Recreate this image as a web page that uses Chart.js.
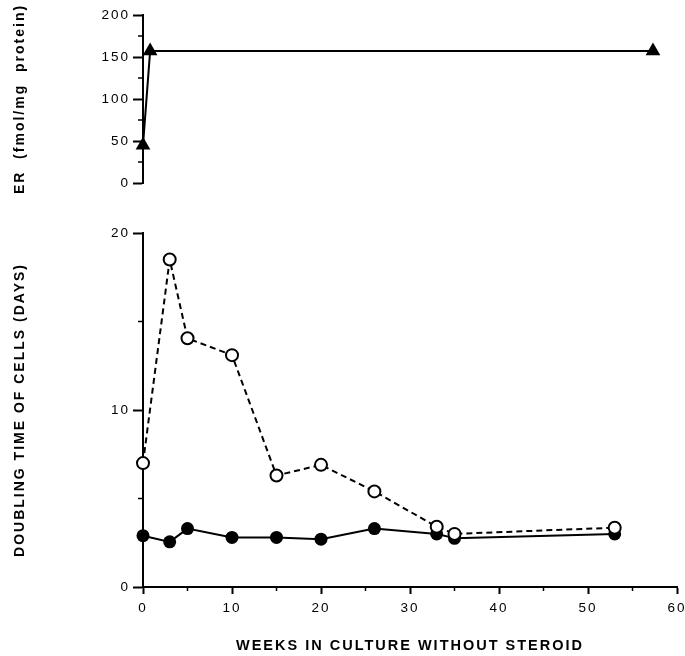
<!DOCTYPE html>
<html>
<head>
<meta charset="utf-8">
<script src="https://cdn.jsdelivr.net/npm/chart.js@4.4.1/dist/chart.umd.min.js"></script>
<style>
    body { margin: 0; background: #fff; overflow: hidden; }
    #erBox { position: absolute; left: 0; top: 0; width: 700px; height: 200px; }
    #dtBox { position: absolute; left: 0; top: 200px; width: 700px; height: 456px; }
</style>
</head>
<body>
<div id="erBox"><canvas id="erChart"></canvas></div>
<div id="dtBox"><canvas id="dtChart"></canvas></div>
<script>
// ER level (top panel)
let erWeeks = [0, 0.8, 57.3];
let erValues = [45, 157, 157];
let erTicks = [0, 50, 100, 150, 200];
let erMinor = [25, 75, 125, 175];

// doubling time (bottom panel)
let weeks = [0, 3, 5, 10, 15, 20, 26, 33, 35, 53];
let openCircles = [7.0, 18.5, 14.05, 13.1, 6.3, 6.9, 5.4, 3.4, 3.0, 3.35];
let filledCircles = [2.9, 2.55, 3.3, 2.8, 2.8, 2.7, 3.3, 3.0, 2.75, 3.0];
let dtTicks = [0, 10, 20];
let dtMinor = [5, 15];

let weekTicks = [0, 10, 20, 30, 40, 50, 60];
let weekMinor = [5, 15, 25, 35, 45, 55];

Chart.defaults.font.family = "'Liberation Sans', Arial, sans-serif";
Chart.defaults.color = "#000";

function toPoints(xs, ys) {
    let pts = [];
    for (let i = 0; i < xs.length; i++) {
        pts.push({ x: xs[i], y: ys[i] });
    }
    return pts;
}

function setTicks(list) {
    return function(scale) {
        scale.ticks = list.map(function(v) { return { value: v }; });
    };
}

let spacing = {
    id: "spacing",
    beforeDraw: function(chart) {
        chart.ctx.letterSpacing = "2px";
    }
};

// short minor tick marks, placed through the scales
let minorTicks = {
    id: "minorTicks",
    afterDraw: function(chart, args, opts) {
        let ctx = chart.ctx;
        ctx.save();
        ctx.strokeStyle = "#000";
        ctx.lineWidth = 1.5;
        let xs = chart.scales.x;
        let ys = chart.scales.y;
        (opts.x || []).forEach(function(v) {
            let px = xs.getPixelForValue(v);
            ctx.beginPath();
            ctx.moveTo(px, chart.chartArea.bottom);
            ctx.lineTo(px, chart.chartArea.bottom + 4);
            ctx.stroke();
        });
        (opts.y || []).forEach(function(v) {
            let py = ys.getPixelForValue(v);
            ctx.beginPath();
            ctx.moveTo(chart.chartArea.left, py);
            ctx.lineTo(chart.chartArea.left - 5, py);
            ctx.stroke();
        });
        ctx.restore();
    }
};

let axisGrid = {
    drawOnChartArea: false,
    drawTicks: true,
    tickLength: 10,
    tickWidth: 2,
    tickColor: "#000"
};

new Chart(document.getElementById("erChart"), {
    type: "scatter",
    data: {
        datasets: [{
            data: toPoints(erWeeks, erValues),
            showLine: true,
            borderColor: "#000",
            borderWidth: 2,
            backgroundColor: "#000",
            pointStyle: "triangle",
            pointRadius: 8.5,
            pointBorderWidth: 0,
            clip: false
        }]
    },
    options: {
        responsive: true,
        maintainAspectRatio: false,
        animation: false,
        layout: { padding: { left: 0, right: 23, top: 15, bottom: 17 } },
        plugins: {
            legend: { display: false },
            tooltip: { enabled: false },
            minorTicks: { y: erMinor }
        },
        scales: {
            x: { type: "linear", min: 0, max: 60, display: false },
            y: {
                min: 0,
                max: 200,
                afterBuildTicks: setTicks(erTicks),
                afterFit: function(scale) { scale.width = 143; },
                border: { display: true, width: 2, color: "#000" },
                grid: axisGrid,
                ticks: { padding: 3, font: { size: 13.5 } },
                title: {
                    display: true,
                    text: "ER  (fmol/mg  protein)",
                    font: { size: 14, weight: "bold" },
                    padding: { top: 12, bottom: 0 }
                }
            }
        }
    },
    plugins: [spacing, minorTicks]
});

new Chart(document.getElementById("dtChart"), {
    type: "scatter",
    data: {
        datasets: [{
            data: toPoints(weeks, openCircles),
            showLine: true,
            borderColor: "#000",
            borderWidth: 2,
            borderDash: [6, 4],
            backgroundColor: "#fff",
            pointBorderColor: "#000",
            pointBorderWidth: 2,
            pointRadius: 6,
            clip: false
        }, {
            data: toPoints(weeks, filledCircles),
            showLine: true,
            borderColor: "#000",
            borderWidth: 2,
            backgroundColor: "#000",
            pointRadius: 6.5,
            pointBorderWidth: 0,
            clip: false
        }]
    },
    options: {
        responsive: true,
        maintainAspectRatio: false,
        animation: false,
        layout: { padding: { left: 0, right: 23, top: 33, bottom: 0 } },
        plugins: {
            legend: { display: false },
            tooltip: { enabled: false },
            minorTicks: { x: weekMinor, y: dtMinor }
        },
        scales: {
            x: {
                type: "linear",
                min: 0,
                max: 60,
                afterBuildTicks: setTicks(weekTicks),
                afterFit: function(scale) { scale.height = 69; },
                border: { display: true, width: 2, color: "#000" },
                grid: {
                    drawOnChartArea: false,
                    drawTicks: true,
                    tickLength: 7,
                    tickWidth: 2,
                    tickColor: "#000"
                },
                ticks: { padding: 6, maxRotation: 0, font: { size: 13.5 } },
                title: {
                    display: true,
                    text: "WEEKS IN CULTURE WITHOUT STEROID",
                    font: { size: 14.5, weight: "bold" },
                    padding: { top: 0, bottom: 1 }
                }
            },
            y: {
                min: 0,
                max: 20,
                afterBuildTicks: setTicks(dtTicks),
                afterFit: function(scale) { scale.width = 143; },
                border: { display: true, width: 2, color: "#000" },
                grid: axisGrid,
                ticks: { padding: 3, font: { size: 13.5 } },
                title: {
                    display: true,
                    text: "DOUBLING TIME OF CELLS (DAYS)",
                    font: { size: 14, weight: "bold" },
                    padding: { top: 12, bottom: 0 }
                }
            }
        }
    },
    plugins: [spacing, minorTicks]
});
</script>
</body>
</html>
